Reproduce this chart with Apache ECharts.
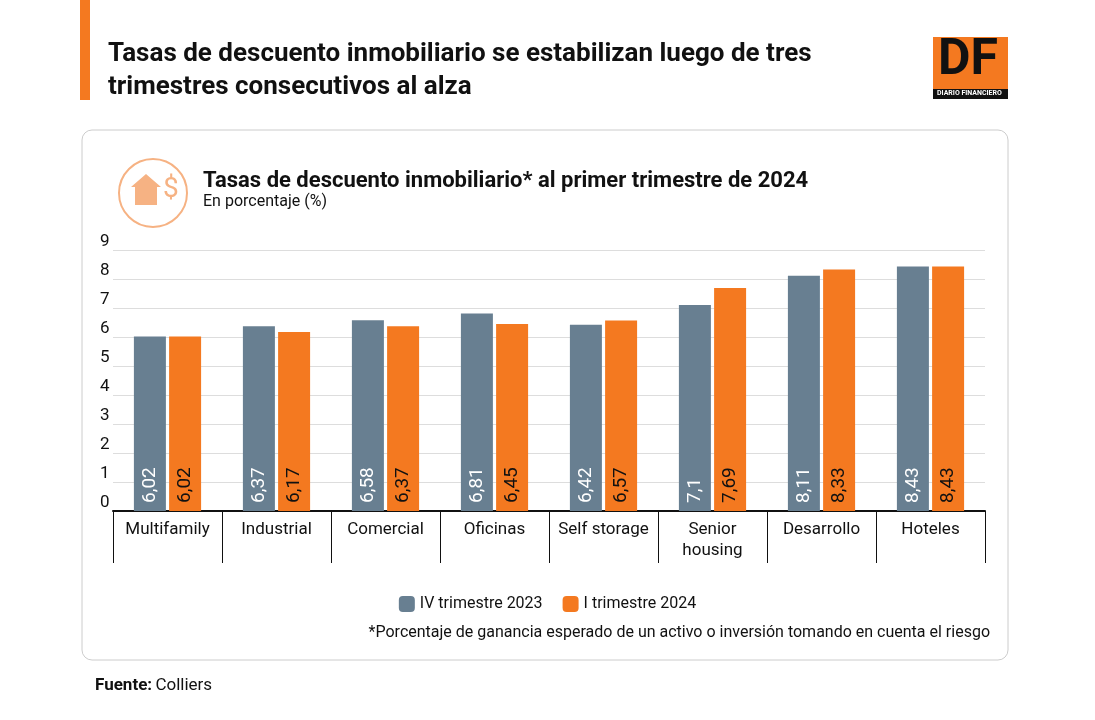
<!DOCTYPE html>
<html><head><meta charset="utf-8">
<script src="https://cdn.jsdelivr.net/npm/echarts@6/dist/echarts.min.js"></script>
<style>body{margin:0;background:#fff}#c{width:1095px;height:720px}</style>
</head><body><div id="c"></div>
<script>
const categories = ["Multifamily", "Industrial", "Comercial", "Oficinas", "Self storage", "Senior\nhousing", "Desarrollo", "Hoteles"];
const q4_2023 = [6.02, 6.37, 6.58, 6.81, 6.42, 7.1, 8.11, 8.43];
const q1_2024 = [6.02, 6.17, 6.37, 6.45, 6.57, 7.69, 8.33, 8.43];
const FONT = "'Liberation Sans Narrow', 'Roboto', sans-serif";

const chart = echarts.init(document.getElementById("c"));
const fmt = p => String(p.value).replace(".", ",");
const label = color => ({
    show: true, position: "insideBottom", rotate: 90, align: "left", verticalAlign: "middle",
    distance: 8, color: color, fontSize: 19, fontFamily: FONT, formatter: fmt
});
chart.setOption({
    textStyle: {fontFamily: FONT},
    graphic: [
        {type: "rect", shape: {x: 80, y: 0, width: 10, height: 100}, style: {fill: "#f47920"}},
        {type: "text", left: 108, top: 38, style: {text: "Tasas de descuento inmobiliario se estabilizan luego de tres\ntrimestres consecutivos al alza", font: "bold 26px " + FONT, lineHeight: 33, fill: "#111"}},
        {type: "rect", shape: {x: 933, y: 37, width: 75, height: 62}, style: {fill: "#f47920"}},
        {type: "text", left: 938, top: 36, style: {text: "DF", font: "bold 50px " + FONT, fill: "#111"}},
        {type: "rect", shape: {x: 933, y: 89, width: 75, height: 10}, style: {fill: "#111"}},
        {type: "text", left: 937, top: 90, style: {text: "DIARIO FINANCIERO", font: "bold 7px " + FONT, fill: "#fff"}},
        {type: "rect", shape: {x: 82, y: 130, width: 926, height: 530, r: 10}, style: {fill: "none", stroke: "#ccc", lineWidth: 1}},
        {type: "circle", shape: {cx: 153, cy: 193, r: 34}, style: {fill: "none", stroke: "#f6b283", lineWidth: 2}},
        {type: "polygon", shape: {points: [[146, 174], [131, 187], [135, 187], [135, 205], [157, 205], [157, 187], [161, 187]]}, style: {fill: "#f6b283"}},
        {type: "text", left: 163, top: 176, style: {text: "$", font: "28px " + FONT, fill: "#f6b283"}},
        {type: "text", left: 203, top: 170, style: {text: "Tasas de descuento inmobiliario* al primer trimestre de 2024", font: "bold 22px " + FONT, fill: "#111"}},
        {type: "text", left: 203, top: 194, style: {text: "En porcentaje (%)", font: "16px " + FONT, fill: "#111"}},
        {type: "text", right: 105, top: 625, style: {text: "*Porcentaje de ganancia esperado de un activo o inversión tomando en cuenta el riesgo", font: "16px " + FONT, fill: "#111"}},
        {type: "text", left: 95, top: 677, style: {rich: {b: {font: "bold 17px " + FONT, fill: "#111"}, n: {font: "17px " + FONT, fill: "#111"}}, text: "{b|Fuente:} {n|Colliers}"}}
    ],
    legend: {
        top: 591, left: "center", itemWidth: 16, itemHeight: 16, itemGap: 20,
        textStyle: {fontSize: 16, color: "#111", fontFamily: FONT},
        data: ["IV trimestre 2023", "I trimestre 2024"]
    },
    grid: {left: 113, right: 110, top: 250, bottom: 209},
    xAxis: {
        type: "category", data: categories,
        axisLine: {lineStyle: {color: "#111", width: 2}},
        axisTick: {show: true, interval: 0, length: 52, lineStyle: {color: "#111"}},
        axisLabel: {interval: 0, color: "#111", fontSize: 17, lineHeight: 21, margin: 8, fontFamily: FONT}
    },
    yAxis: {
        type: "value", min: 0, max: 9, interval: 1,
        axisLabel: {inside: true, verticalAlign: "bottom", align: "left", margin: -13, color: "#111", fontSize: 17, fontFamily: FONT},
        splitLine: {lineStyle: {color: "#ddd"}}
    },
    series: [
        {name: "IV trimestre 2023", type: "bar", data: q4_2023, barWidth: 32, barGap: "10%", itemStyle: {color: "#687f91"}, label: label("#fff")},
        {name: "I trimestre 2024", type: "bar", data: q1_2024, barWidth: 32, itemStyle: {color: "#f47920"}, label: label("#111")}
    ]
});
</script></body></html>
